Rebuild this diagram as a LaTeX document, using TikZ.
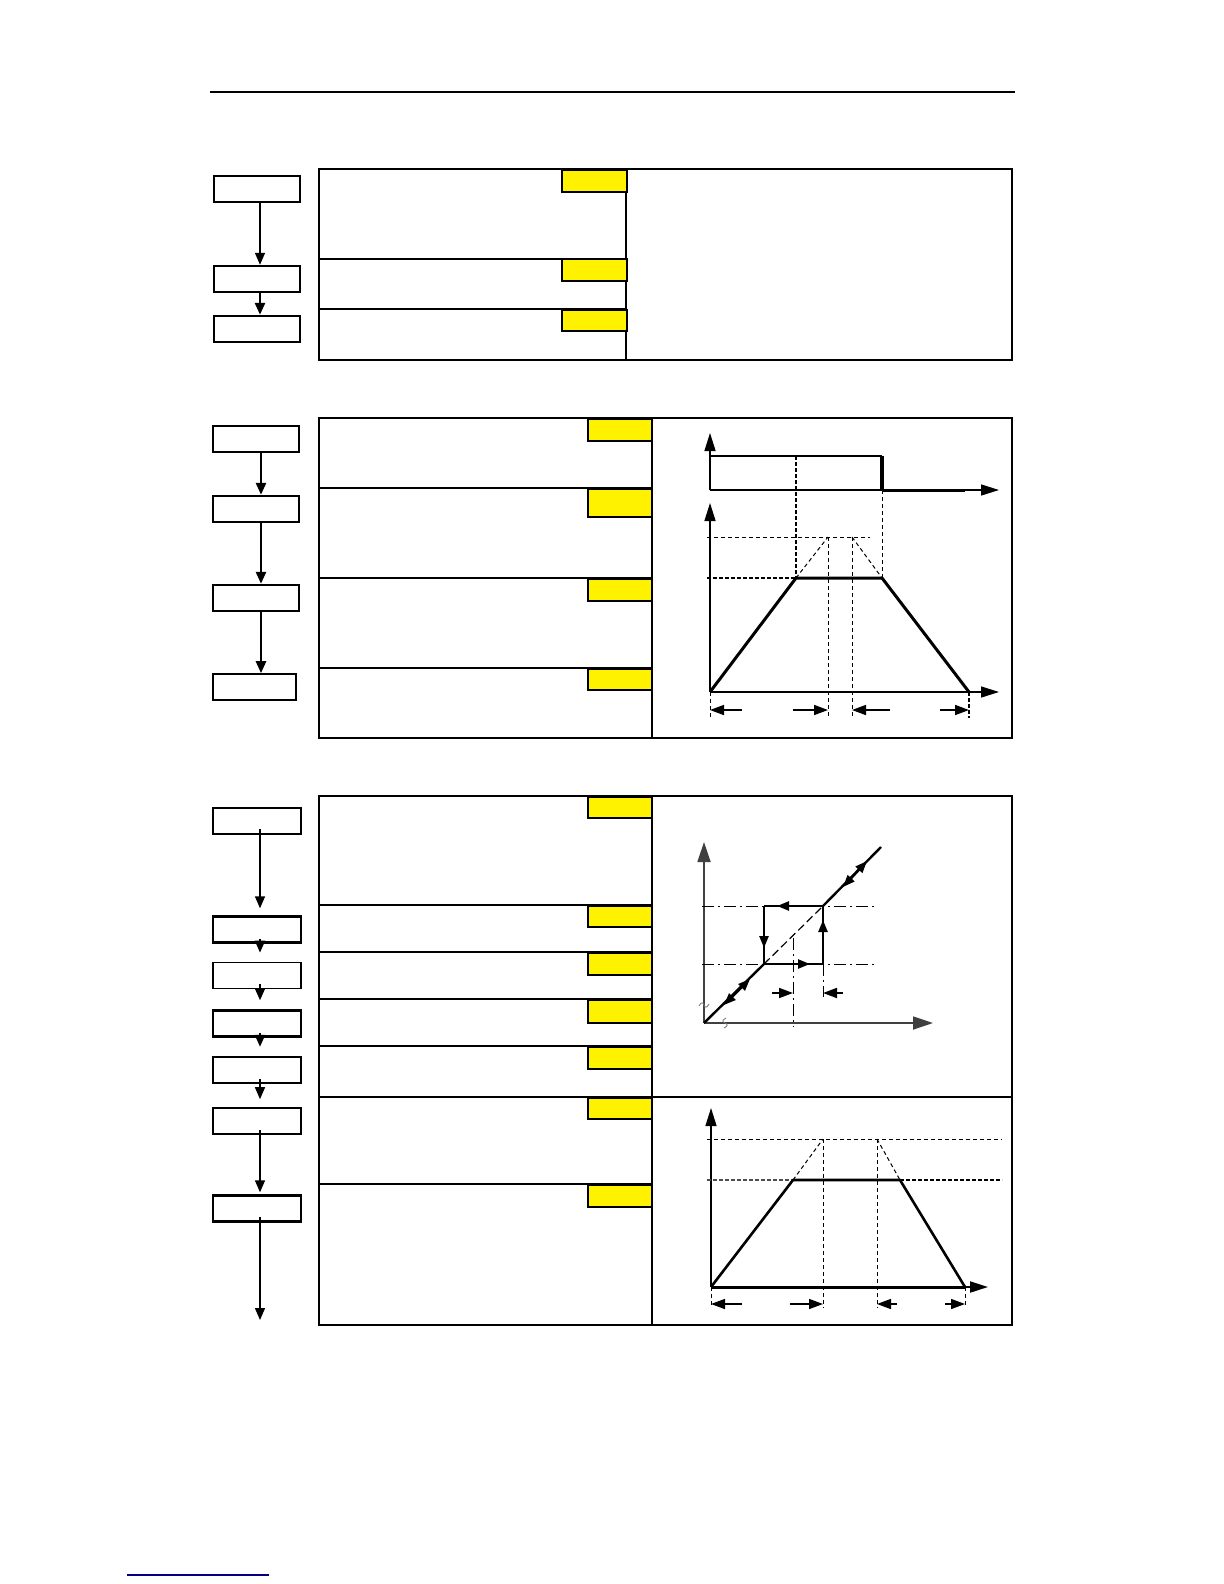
\documentclass[tikz,border=0pt]{standalone}
\usetikzlibrary{arrows.meta}
\begin{document}
\begin{tikzpicture}[x=0.5pt,y=-0.5pt,
  fbox/.style={draw,line width=1.2pt,inner sep=0pt,minimum height=13pt},
  frame/.style={line width=0.8pt},
  ybox/.style={draw,line width=0.6pt,fill=yellow},
  arr/.style={-{Triangle[length=6pt,width=5pt]}},
  tarr/.style={-{Triangle[length=7pt,width=5pt]}},
  axis/.style={line width=0.7pt,-{Triangle[length=9pt,width=5.5pt]}},
  curve/.style={line width=1.5pt},
  thindash/.style={line width=0.5pt,dash pattern=on 2pt off 1.5pt},
  thickdash/.style={line width=1pt,dash pattern=on 2pt off 1pt},
  dashdot/.style={line width=0.5pt,dash pattern=on 6pt off 2pt on 1pt off 2pt}]
\useasboundingbox (0,0) rectangle (1224,1584);
\fill[white] (0,0) rectangle (1224,1584);

% header rule
\draw[line width=1.1pt] (210,92) -- (1015,92);

% ===== Section 1 =====
\node[fbox,minimum width=43pt] (a1) at (257,189) {};
\node[fbox,minimum width=43pt] (a2) at (257,279) {};
\node[fbox,minimum width=43pt] (a3) at (257,329) {};
\draw[arr,line width=0.7pt] ([xshift=1.5pt]a1.south) -- ([xshift=1.5pt]a2.north);
\draw[arr,line width=1.3pt] ([xshift=1.5pt]a2.south) -- ([xshift=1.5pt]a3.north);

\draw[frame] (319,169) rectangle (1012,360);
\draw[frame] (626,169) -- (626,360);
\draw[frame] (319,259) -- (626,259);
\draw[frame] (319,309) -- (626,309);
\draw[ybox] (562,170) rectangle (627,192);
\draw[ybox] (562,259) rectangle (627,281);
\draw[ybox] (562,310) rectangle (627,331);

% ===== Section 2 =====
\node[fbox,minimum width=43pt] (b1) at (256,439) {};
\node[fbox,minimum width=43pt] (b2) at (256,509) {};
\node[fbox,minimum width=43pt] (b3) at (256,598) {};
\node[fbox,line width=0.8pt,minimum width=41.5pt] (b4) at (254.5,687) {};
\draw[arr,line width=1.3pt] ([xshift=2.5pt]b1.south) -- ([xshift=2.5pt]b2.north);
\draw[arr,line width=1.3pt] ([xshift=2.5pt]b2.south) -- ([xshift=2.5pt]b3.north);
\draw[arr,line width=1.3pt] ([xshift=2.5pt]b3.south) -- ([xshift=3.25pt]b4.north);

\draw[frame] (319,418) rectangle (1012,738);
\draw[frame] (652,418) -- (652,738);
\draw[frame] (319,488) -- (652,488);
\draw[frame] (319,578) -- (652,578);
\draw[frame] (319,668) -- (652,668);
\draw[ybox] (588,419) rectangle (652,441);
\draw[ybox] (588,489) rectangle (652,517);
\draw[ybox] (588,579) rectangle (652,601);
\draw[ybox] (588,669) rectangle (652,690);

% chart 2
\draw[axis] (710,490) -- (710,433);
\draw[axis] (710,490) -- (999,490);
\draw[line width=1.2pt] (710,456) -- (882,456);
\draw[line width=1.6pt] (882,456) -- (882,490);
\draw[curve] (882,490) -- (965,490);
\draw[thickdash] (796,456) -- (796,578);
\draw[thindash] (882,490) -- (882,578);
\draw[axis] (710,692) -- (710,503);
\draw[axis] (710,692) -- (999,692);
\draw[thindash] (796,578) -- (828,537);
\draw[thindash] (852,537) -- (882,578);
\draw[thindash] (707,537) -- (870,537);
\draw[thickdash] (707,578) -- (796,578);
\draw[thindash] (828,537) -- (828,718);
\draw[thindash] (852,537) -- (852,718);
\draw[thindash] (710,692) -- (710,718);
\draw[thickdash] (969,692) -- (969,718);
\draw[curve,line join=round] (710,692) -- (796,578) -- (882,578) -- (969,692);
\draw[tarr,line width=0.8pt] (742,710) -- (710,710);
\draw[tarr,line width=0.8pt] (793,710) -- (828,710);
\draw[tarr,line width=0.8pt] (890,710) -- (852,710);
\draw[tarr,line width=0.8pt] (940,710) -- (969,710);

% ===== Section 3 =====
\node[fbox,minimum width=44pt] (c1) at (257,821) {};
\node[fbox,minimum width=44pt] (c2) at (257,929.5) {};
\node[fbox,line width=0.9pt,minimum width=44pt] (c3) at (257,975.5) {};
\node[fbox,minimum width=44pt] (c4) at (257,1023.5) {};
\node[fbox,minimum width=44pt] (c5) at (257,1070) {};
\node[fbox,line width=0.8pt,minimum width=44pt] (c6) at (257,1121) {};
\node[fbox,minimum width=44pt] (c7) at (257,1208.5) {};
\coordinate (cend) at (260,1320);
\draw[arr,line width=0.7pt] ([xshift=1.5pt,yshift=3pt]c1.south) -- ([xshift=1.5pt,yshift=3.5pt]c2.north);
\draw[arr,line width=1pt] ([xshift=1.5pt,yshift=2.5pt]c2.south) -- ([xshift=1.5pt,yshift=4.5pt]c3.north);
\draw[arr,line width=1pt] ([xshift=1.5pt,yshift=2.5pt]c3.south) -- ([xshift=1.5pt,yshift=4.5pt]c4.north);
\draw[arr,line width=1pt] ([xshift=1.5pt,yshift=2.5pt]c4.south) -- ([xshift=1.5pt,yshift=4.5pt]c5.north);
\draw[arr,line width=0.7pt] ([xshift=1.5pt,yshift=2.5pt]c5.south) -- ([xshift=1.5pt,yshift=4pt]c6.north);
\draw[arr,line width=0.7pt] ([xshift=1.5pt,yshift=2.5pt]c6.south) -- ([xshift=1.5pt,yshift=1pt]c7.north);
\draw[arr,line width=0.7pt] ([xshift=1.5pt,yshift=3pt]c7.south) -- (cend);

\draw[frame] (319,796) rectangle (1012,1325);
\draw[frame] (652,796) -- (652,1325);
\draw[frame] (319,905) -- (652,905);
\draw[frame] (319,952) -- (652,952);
\draw[frame] (319,999) -- (652,999);
\draw[frame] (319,1046) -- (652,1046);
\draw[frame] (319,1097) -- (1012,1097);
\draw[frame] (319,1184) -- (652,1184);
\draw[ybox] (588,797) rectangle (652,818);
\draw[ybox] (588,906) rectangle (652,927);
\draw[ybox] (588,953) rectangle (652,975);
\draw[ybox] (588,1000) rectangle (652,1023);
\draw[ybox] (588,1047) rectangle (652,1069);
\draw[ybox] (588,1098) rectangle (652,1119);
\draw[ybox] (588,1185) rectangle (652,1207);

% chart 3 (hysteresis)
\draw[line width=0.9pt,draw=black!75,-{Triangle[length=10pt,width=6.5pt]}] (704,1023) -- (704,842);
\draw[line width=0.9pt,draw=black!75,-{Triangle[length=10pt,width=6.5pt]}] (704,1023) -- (933,1023);
\draw[dashdot] (702,906) -- (875,906);
\draw[dashdot] (702,964) -- (875,964);
\draw[dashdot] (793,938) -- (793,1027);
\draw[dashdot] (823,964) -- (823,997);
\draw[line width=1.2pt] (704,1023) -- (764,964);
\draw[line width=0.6pt,dash pattern=on 4pt off 2pt] (764,964) -- (823,906);
\draw[line width=1.2pt] (823,906) -- (881,847);
\draw[line width=1.2pt,{Triangle[length=6pt,width=4.5pt]}-{Triangle[length=6pt,width=4.5pt]}] (724,1005) -- (750,979);
\draw[line width=1.2pt,{Triangle[length=6pt,width=4.5pt]}-{Triangle[length=6pt,width=4.5pt]}] (843,887) -- (867,861);
\draw[line width=1.2pt,-{Triangle[length=6pt,width=4.5pt]}] (823,906) -- (777,906);
\draw[line width=1.2pt] (780,906) -- (764,906);
\draw[line width=1.2pt,-{Triangle[length=6pt,width=4.5pt]}] (764,906) -- (764,948);
\draw[line width=1.2pt] (764,944) -- (764,964);
\draw[line width=1.2pt,-{Triangle[length=6pt,width=4.5pt]}] (764,964) -- (810,964);
\draw[line width=1.2pt] (807,964) -- (823,964);
\draw[line width=1.2pt,-{Triangle[length=6pt,width=4.5pt]}] (823,964) -- (823,920);
\draw[line width=1.2pt] (823,924) -- (823,906);
\draw[tarr,line width=0.9pt] (772,993) -- (793,993);
\draw[tarr,line width=0.9pt] (843,993) -- (823,993);
\draw[black!55,line width=0.4pt] (699,1006) .. controls (701,1002) and (703,1002) .. (704,1005) .. controls (705,1008) and (707,1008) .. (709,1004);
\draw[black!55,line width=0.4pt] (726,1018) .. controls (722,1020) and (722,1022) .. (725,1023) .. controls (728,1024) and (728,1026) .. (724,1028);

% chart 4
\draw[axis] (711,1287) -- (711,1108);
\draw[thindash] (707,1139) -- (1002,1139);
\draw[line width=1pt,draw=black!70,dash pattern=on 2pt off 1pt] (707,1180) -- (793,1180);
\draw[line width=1pt,dash pattern=on 2pt off 1pt] (900,1180) -- (1002,1180);
\draw[thindash] (793,1180) -- (823,1139);
\draw[thindash] (877,1139) -- (900,1180);
\draw[thindash] (823,1139) -- (823,1308);
\draw[thindash] (877,1139) -- (877,1308);
\draw[thindash] (711,1287) -- (711,1308);
\draw[thindash] (965,1287) -- (965,1308);
\draw[axis,line width=1pt] (711,1287) -- (988,1287);
\draw[curve] (711,1287) -- (965,1287);
\draw[line width=1.3pt,line join=round] (711,1287) -- (793,1180) -- (900,1180) -- (965,1287);
\draw[tarr,line width=0.8pt] (742,1304) -- (711,1304);
\draw[tarr,line width=0.8pt] (790,1304) -- (823,1304);
\draw[tarr,line width=0.8pt] (897,1304) -- (877,1304);
\draw[tarr,line width=0.8pt] (945,1304) -- (965,1304);

% footer link line
\draw[color=blue!50!black,line width=0.6pt] (127,1575) -- (269,1575);
\end{tikzpicture}
\end{document}
